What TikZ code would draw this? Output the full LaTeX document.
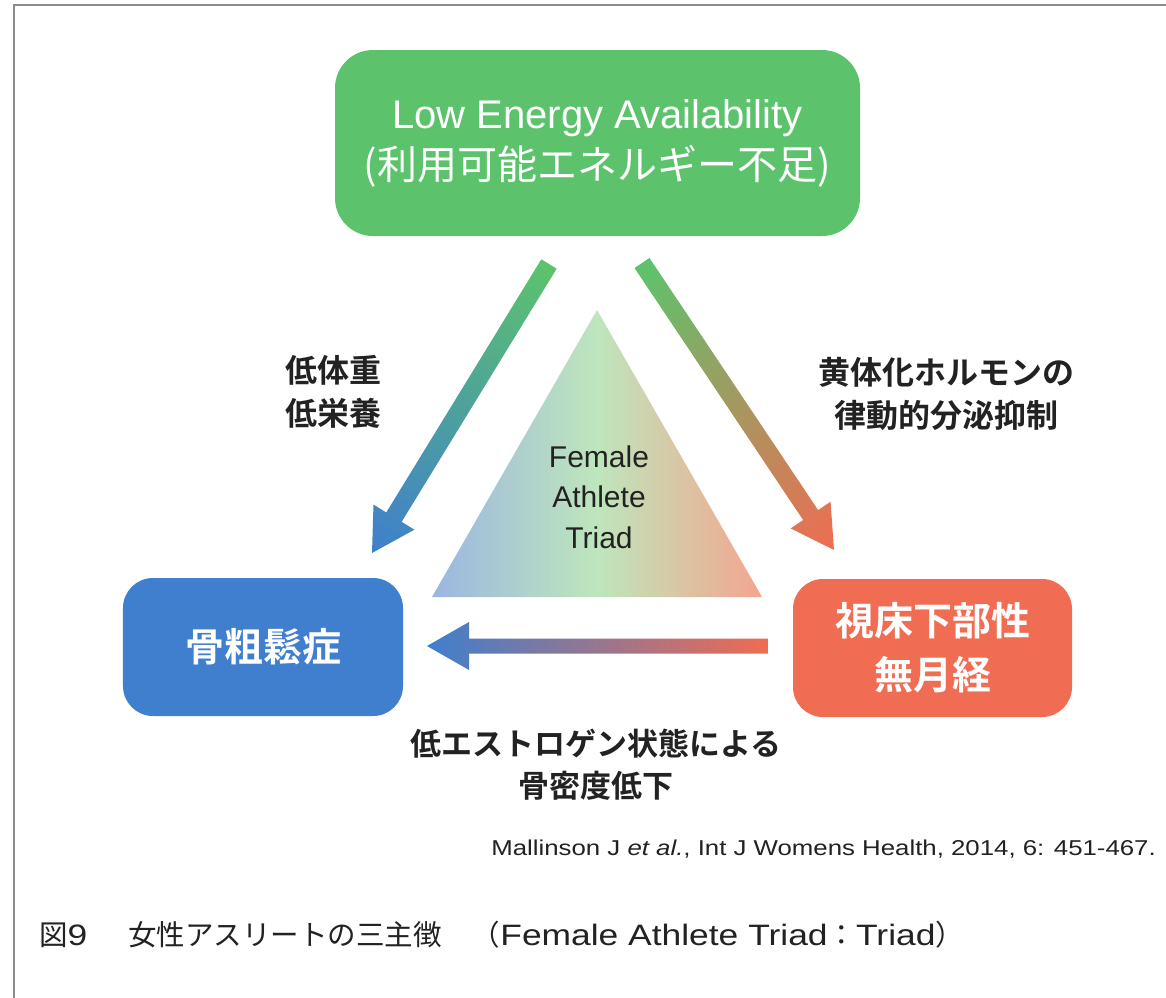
\documentclass[tikz,border=0pt]{standalone}
\usepackage{fontspec}
\setmainfont{Liberation Sans}
\newfontfamily\jp{Noto Sans CJK JP}[BoldFont={Noto Sans CJK JP Bold}]
\newfontfamily\wide{Liberation Sans}[FakeStretch=1.2]
\usetikzlibrary{calc}
\definecolor{gbox}{HTML}{5CC36C}
\definecolor{bbox}{HTML}{3F7FCD}
\definecolor{rbox}{HTML}{F06C52}
\definecolor{triL}{HTML}{9BB6E0}
\definecolor{triM}{HTML}{BEE6BC}
\definecolor{triR}{HTML}{F4A58E}
\definecolor{txt}{HTML}{222222}
\definecolor{frame}{HTML}{8C8C8C}
\pgfdeclarehorizontalshading{trishade}{100bp}{color(0bp)=(triL); color(25bp)=(triL); color(50bp)=(triM); color(75bp)=(triR); color(100bp)=(triR)}
\newcommand\gradarrow[7]{%
  % #1 from, #2 to, #3 start colour, #4 end colour, #5 half shaft, #6 head length, #7 half head
  \pgfpointdiff{\pgfpointanchor{#1}{center}}{\pgfpointanchor{#2}{center}}%
  \pgfgetlastxy{\gadx}{\gady}%
  \pgfmathsetmacro\gaang{atan2(\gady,\gadx)}%
  \pgfmathsetmacro\galen{veclen(\gadx,\gady)}%
  \begin{scope}[transform canvas={shift={(#1)},rotate=\gaang}]
    \shade[left color=#3,right color=#4]
      (0pt,-#5) -- ({\galen pt-#6},-#5) -- ({\galen pt-#6},-#7) -- (\galen pt,0pt)
      -- ({\galen pt-#6},#7) -- ({\galen pt-#6},#5) -- (0pt,#5) -- cycle;
  \end{scope}}
\newcommand\capjp{\jp\fontsize{28.5bp}{34bp}\selectfont}
\tikzset{
  box/.style={rounded corners=#1, text=white, align=center, inner sep=0pt},
  lbl/.style={text=txt, align=center, inner sep=0pt,
    font=\jp\bfseries\fontsize{32bp}{43bp}\selectfont},
}
\begin{document}
\begin{tikzpicture}[x=1bp,y=-1bp]
  \useasboundingbox (0,0) rectangle (1166,998);
  \fill[white] (0,0) rectangle (1166,998);
  \draw[frame, line width=2bp] (14,998) -- (14,5) -- (1166,5);

  % boxes
  \node[box=38bp, fill=gbox, minimum width=525bp, minimum height=186bp,
        font=\fontsize{40bp}{51bp}\selectfont] (lea) at (597.5,143)
        {Low Energy Availability\\{\jp (利用可能エネルギー不足)}};
  \node[box=30bp, fill=bbox, minimum width=280bp, minimum height=138bp,
        font=\jp\bfseries\fontsize{39bp}{52bp}\selectfont] (ost) at (263,647) {骨粗鬆症};
  \node[box=30bp, fill=rbox, minimum width=279bp, minimum height=138bp,
        font=\jp\bfseries\fontsize{39bp}{54bp}\selectfont] (ame) at (932.5,648) {視床下部性\\無月経};

  % triangle
  \coordinate (tA) at (597,310);
  \coordinate (tL) at (432,597);
  \coordinate (tR) at (762,597);
  \shade[shading=trishade] (tA) -- (tL) -- (tR) -- cycle;
  \node[text=txt, align=center, inner sep=0pt, font=\fontsize{30bp}{40.5bp}\selectfont]
    (triad) at (599,497) {Female\\Athlete\\Triad};

  % arrows
  \coordinate (a1s) at (549,264);
  \coordinate (a1e) at (372,553);
  \coordinate (a2s) at (642,263);
  \coordinate (a2e) at (834,550);
  \coordinate (a3s) at (768,646);
  \coordinate (a3e) at (427,646);
  \gradarrow{a1s}{a1e}{gbox}{bbox}{9bp}{42bp}{24bp}
  \gradarrow{a2s}{a2e}{gbox}{rbox}{9bp}{42bp}{24bp}
  \gradarrow{a3s}{a3e}{rbox}{bbox}{7.5bp}{42bp}{24bp}

  % labels
  \node[lbl] (l1) at (333,392) {低体重\\低栄養};
  \node[lbl] (l2) at (946,394) {黄体化ホルモンの\\律動的分泌抑制};
  \node[lbl, font=\jp\bfseries\fontsize{31bp}{42bp}\selectfont] (l3) at (596,765) {低エストロゲン状態による\\骨密度低下};

  % citation and caption
  \node[anchor=east, inner sep=0pt, text=txt, font=\wide\fontsize{21.5bp}{26bp}\selectfont]
    (cite) at (1156,849) {Mallinson J \textit{et al.}, Int J Womens Health, 2014, 6: 451-467.};
  \node[anchor=west, inner sep=0pt, text=txt, font=\wide\fontsize{29.5bp}{36bp}\selectfont]
    (cap) at (39,935) {{\capjp 図}9\hspace{41bp}{\capjp 女性アスリートの三主徴}\hspace{30bp}{\capjp （}Female Athlete Triad{\capjp ：}Triad{\capjp ）}};
\end{tikzpicture}
\end{document}
